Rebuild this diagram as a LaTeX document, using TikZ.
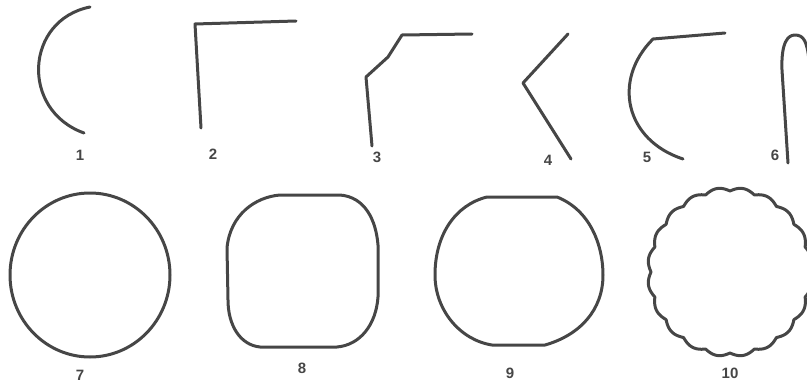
\documentclass[tikz,border=0pt]{standalone}
\usepackage{fontspec}
\setmainfont{Liberation Sans}
\definecolor{ink}{RGB}{70,70,70}
\tikzset{
  stroke/.style={draw=ink, line width=3pt, line cap=round, line join=round},
  lab/.style={text=ink, font=\bfseries\fontsize{15}{17}\selectfont, inner sep=0pt}
}
\begin{document}
\begin{tikzpicture}[x=1pt,y=-1pt]
\useasboundingbox (0,0) rectangle (807,391);
\clip (0,0) rectangle (807,391);
% 1
\draw[stroke] (90,7) .. controls (25,20) and (20,110) .. (84,133);
\node[lab] (l1) at (80,155) {1};
% 2
\draw[stroke] (296,21) -- (195,24) -- (201,128);
\node[lab] (l2) at (213,154) {2};
% 3
\draw[stroke] (372,146) -- (366,77) -- (388,57) -- (402,35) -- (472,34);
\node[lab] (l3) at (377,157) {3};
% 4
\draw[stroke] (568,34) -- (523,83) -- (571,159);
\node[lab] (l4) at (548,160) {4};
% 5
\draw[stroke] (725,33) -- (653,39) .. controls (612,80) and (625,140) .. (683,159);
\node[lab] (l5) at (647,157) {5};
% 6
\draw[stroke] (788,163) -- (782,70) .. controls (781,42) and (788,35) .. (795,35) .. controls (804,35) and (807,42) .. (809,60);
\node[lab] (l6) at (775,155) {6};
% 7
\draw[stroke] (90,275) ellipse [x radius=80, y radius=82];
\node[lab] (l7) at (80,375) {7};
% 8
\draw[stroke] (280,195) -- (340,195) .. controls (365,197) and (376,220) .. (378,245) -- (378,297)
  .. controls (376,325) and (360,345) .. (337,347) -- (260,347)
  .. controls (240,345) and (228,325) .. (228,300) -- (227,248)
  .. controls (230,215) and (255,197) .. cycle;
\node[lab] (l8) at (302,368) {8};
% 9
\draw[stroke] (487,197) -- (557,197) .. controls (590,210) and (603,245) .. (603,275)
  .. controls (603,310) and (580,335) .. (545,345) -- (492,345)
  .. controls (460,340) and (435,310) .. (435,275)
  .. controls (435,235) and (455,205) .. cycle;
\node[lab] (l9) at (510,373) {9};
% 10
\draw[stroke] plot[domain=0:360, samples=721] ({730+(79+3.5*abs(sin(10*\x)))*cos(\x)}, {272+(81+3.5*abs(sin(10*\x)))*sin(\x)}) -- cycle;
\node[lab] (l10) at (730,373) {10};
\end{tikzpicture}
\end{document}
